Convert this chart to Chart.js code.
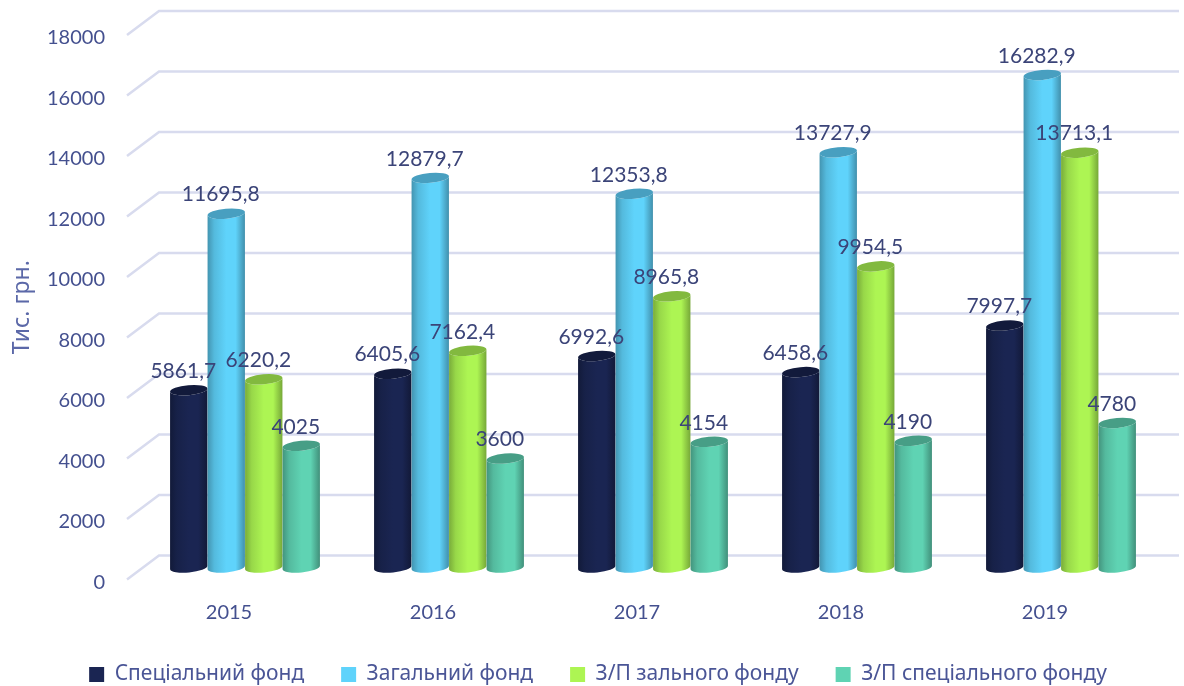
<!DOCTYPE html>
<html>
<head>
<meta charset="utf-8">
<script src="https://cdn.jsdelivr.net/npm/chart.js@4/dist/chart.umd.min.js"></script>
<style>
    html, body { margin: 0; padding: 0; background: #ffffff; overflow: hidden; }
    canvas { display: block; }
</style>
</head>
<body>
<canvas id="chart" width="1184" height="686"></canvas>
<script>
const years = ['2015', '2016', '2017', '2018', '2019'];
const specialFund = [5861.7, 6405.6, 6992.6, 6458.6, 7997.7];
const generalFund = [11695.8, 12879.7, 12353.8, 13727.9, 16282.9];
const generalWages = [6220.2, 7162.4, 8965.8, 9954.5, 13713.1];
const specialWages = [4025, 3600, 4154, 4190, 4780];
const seriesNames = ['Спеціальний фонд', 'Загальний фонд', 'З/П зального фонду', 'З/П спеціального фонду'];
const yMax = 18000;
const yStep = 2000;

const bodyColors = ['#1a2552', '#5fd3fb', '#adf553', '#5fd3b3'];
const topColors = ['#121a3b', '#489fc0', '#82b93f', '#479e86'];
const depthX = 32;
const depthY = 24;
const capHeight = 5;
const capTilt = -5 * Math.PI / 180;

function shade(hex, k) {
    const n = parseInt(hex.slice(1), 16);
    const r = Math.round((n >> 16) * k);
    const g = Math.round(((n >> 8) & 255) * k);
    const b = Math.round((n & 255) * k);
    return `rgb(${r},${g},${b})`;
}

function drawCylinder(ctx, bar, color, topColor) {
    const a = bar.width / 2;
    const cx = bar.x + depthX / 2;
    const top = bar.y - depthY / 2;
    const bottom = bar.base - depthY / 2;
    const dx = a * Math.cos(capTilt);
    const dy = a * Math.sin(capTilt);

    const grad = ctx.createLinearGradient(cx - a, 0, cx + a, 0);
    grad.addColorStop(0, shade(color, 0.7));
    grad.addColorStop(0.18, shade(color, 0.88));
    grad.addColorStop(0.5, color);
    grad.addColorStop(0.75, color);
    grad.addColorStop(1, shade(color, 0.68));

    ctx.beginPath();
    ctx.moveTo(cx - dx, top - dy);
    ctx.lineTo(cx - dx, bottom - dy);
    ctx.ellipse(cx, bottom, a, capHeight, capTilt, Math.PI, 0, true);
    ctx.lineTo(cx + dx, top + dy);
    ctx.ellipse(cx, top, a, capHeight, capTilt, 0, Math.PI, false);
    ctx.closePath();
    ctx.fillStyle = grad;
    ctx.fill();

    ctx.beginPath();
    ctx.ellipse(cx, top, a, capHeight, capTilt, 0, Math.PI * 2);
    ctx.fillStyle = topColor;
    ctx.fill();
}

const cylinderPlugin = {
    id: 'cylinders',
    // the legend sits a little right of the plot centre in the original
    afterLayout(chart) {
        chart.legend.left += 18;
        chart.legend.right += 18;
    },
    // grid lines run from the front axis to the back wall
    beforeDatasetsDraw(chart) {
        const { ctx, chartArea, scales } = chart;
        ctx.save();
        ctx.strokeStyle = '#d8dbee';
        ctx.lineWidth = 2.5;
        scales.y.ticks.forEach((tick) => {
            const y = scales.y.getPixelForValue(tick.value);
            ctx.beginPath();
            ctx.moveTo(chartArea.left, y);
            ctx.lineTo(chartArea.left + depthX, y - depthY);
            ctx.lineTo(chartArea.right + depthX, y - depthY);
            ctx.stroke();
        });
        ctx.restore();
    },
    beforeDatasetDraw() {
        return false;
    },
    afterDatasetsDraw(chart) {
        const { ctx } = chart;
        ctx.save();
        chart.data.datasets.forEach((ds, i) => {
            chart.getDatasetMeta(i).data.forEach((bar) => {
                drawCylinder(ctx, bar, bodyColors[i], topColors[i]);
            });
        });
        ctx.font = '21px Lato, "Noto Sans", sans-serif';
        ctx.fillStyle = '#3b4478';
        ctx.textAlign = 'center';
        ctx.textBaseline = 'middle';
        chart.data.datasets.forEach((ds, i) => {
            chart.getDatasetMeta(i).data.forEach((bar, j) => {
                const text = String(ds.data[j]).replace('.', ',');
                ctx.fillText(text, bar.x + depthX / 2 - 5.5, bar.y - depthY / 2 - 19);
            });
        });
        ctx.restore();
    }
};

new Chart(document.getElementById('chart'), {
    type: 'bar',
    data: {
        labels: years,
        datasets: [specialFund, generalFund, generalWages, specialWages].map((values, i) => ({
            label: seriesNames[i],
            data: values,
            backgroundColor: bodyColors[i],
            borderWidth: 0,
            barPercentage: 1,
            categoryPercentage: 150 / 204
        }))
    },
    options: {
        responsive: false,
        animation: false,
        layout: { padding: { left: 13, right: 37, top: 35, bottom: -9 } },
        scales: {
            x: {
                grid: { display: false, drawTicks: false },
                border: { display: false },
                ticks: { color: '#44508f', font: { family: 'Lato', size: 20 }, padding: 21, maxRotation: 0 },
                afterFit(scale) { scale.height = 47.5; }
            },
            y: {
                min: 0,
                max: yMax,
                grid: { display: false, drawTicks: false },
                border: { display: false },
                ticks: {
                    stepSize: yStep,
                    color: '#44508f',
                    font: { family: 'Lato', size: 20 },
                    padding: 22,
                    labelOffset: 3,
                    callback: (value) => String(value)
                },
                title: {
                    display: true,
                    text: 'Тис. грн.',
                    color: '#5b68a8',
                    font: { family: '"Noto Sans"', size: 23, lineHeight: 0.8 },
                    padding: 0
                },
                afterFit(scale) { scale.width = 114; }
            }
        },
        plugins: {
            tooltip: { enabled: false },
            legend: {
                position: 'bottom',
                labels: {
                    color: '#4a5596',
                    font: { family: '"Noto Sans"', size: 21 },
                    boxWidth: 15,
                    boxHeight: 15,
                    padding: 37
                }
            }
        }
    },
    plugins: [cylinderPlugin]
});
</script>
</body>
</html>
